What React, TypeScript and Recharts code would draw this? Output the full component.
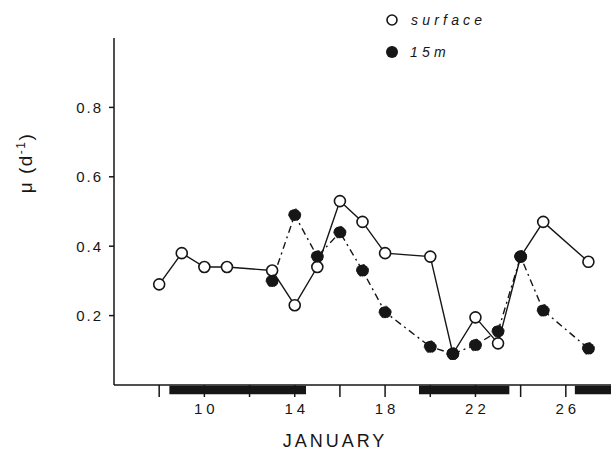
import React from "react";
import { LineChart, Line, XAxis, YAxis, ReferenceArea } from "recharts";

// growth rate (per day) by January day
const surfaceDays = [8, 9, 10, 11, 13, 14, 15, 16, 17, 18, 20, 21, 22, 23, 24, 25, 27];
const surfaceMu = [0.29, 0.38, 0.34, 0.34, 0.33, 0.23, 0.34, 0.53, 0.47, 0.38, 0.37, 0.09, 0.195, 0.12, 0.37, 0.47, 0.355];

const deepDays = [13, 14, 15, 16, 17, 18, 20, 21, 22, 23, 24, 25, 27];
const deepMu = [0.3, 0.49, 0.37, 0.44, 0.33, 0.21, 0.11, 0.09, 0.115, 0.155, 0.37, 0.215, 0.105];

// dark bars under the axis (start day, end day)
const barStarts = [8.45, 19.5, 26.4];
const barEnds = [14.5, 23.5, 28];

const xTicks = [8, 10, 12, 14, 16, 18, 20, 22, 24, 26];
const xLabelled = [10, 14, 18, 22, 26];
const yTicks = [0.2, 0.4, 0.6, 0.8];

const surfaceData = surfaceDays.map((d, i) => ({ day: d, mu: surfaceMu[i] }));
const deepData = deepDays.map((d, i) => ({ day: d, mu: deepMu[i] }));

const INK = "#161616";
const FONT = "'Liberation Sans', Arial, sans-serif";

function LegendBox() {
  const row: React.CSSProperties = {
    display: "flex",
    alignItems: "center",
    height: 32,
    fontFamily: FONT,
    fontStyle: "italic",
    fontSize: 14,
    letterSpacing: 4.2,
    color: INK,
  };
  return (
    <div style={{ position: "absolute", top: 4, left: 384 }}>
      <div style={row}>
        <svg width={16} height={16} style={{ marginRight: 11 }}>
          <circle cx={8} cy={8} r={5} fill="#fff" stroke={INK} strokeWidth={1.6} />
        </svg>
        surface
      </div>
      <div style={row}>
        <svg width={16} height={16} style={{ marginRight: 10 }}>
          <circle cx={8} cy={8} r={6} fill={INK} />
        </svg>
        15m
      </div>
    </div>
  );
}

export default function App() {
  return (
    <div style={{ position: "relative", width: 611, height: 455, background: "#fff" }}>
      <style>{"body{margin:0}"}</style>
      <LineChart
        width={611}
        height={455}
        margin={{ top: 38, right: 0, bottom: 0, left: 1 }}
      >
        <XAxis
          type="number"
          dataKey="day"
          domain={[6, 28]}
          ticks={xTicks}
          allowDataOverflow
          tickFormatter={(v: number) => (xLabelled.includes(v) ? String(v) : "")}
          tickSize={12}
          tickMargin={6}
          height={70}
          axisLine={{ stroke: INK, strokeWidth: 1.5 }}
          tickLine={{ stroke: INK, strokeWidth: 1.5 }}
          tick={{ fill: INK, fontSize: 15, fontFamily: FONT, letterSpacing: 4, dx: 2 }}
          label={{
            content: () => (
              <text
                x={335}
                y={447}
                textAnchor="middle"
                fill={INK}
                fontSize={18}
                fontFamily={FONT}
                letterSpacing={3}
              >
                JANUARY
              </text>
            ),
          }}
        />
        <YAxis
          type="number"
          domain={[0, 1]}
          ticks={yTicks}
          width={113}
          tickSize={5}
          tickMargin={6}
          tickFormatter={(v: number) => v.toFixed(1)}
          axisLine={{ stroke: INK, strokeWidth: 1.5 }}
          tickLine={{ stroke: INK, strokeWidth: 1.5 }}
          tick={{ fill: INK, fontSize: 15, fontFamily: FONT, letterSpacing: 2 }}
          label={{
            content: () => (
              <text
                x={32}
                y={163}
                transform="rotate(-90 32 163)"
                textAnchor="middle"
                fill={INK}
                fontSize={19}
                fontFamily={FONT}
                letterSpacing={1.5}
              >
                μ (d
                <tspan dy={-7} fontSize={12}>-1</tspan>
                <tspan dy={7}>)</tspan>
              </text>
            ),
          }}
        />
        {barStarts.map((s, i) => (
          <ReferenceArea
            key={i}
            x1={s}
            x2={barEnds[i]}
            y1={-0.027}
            y2={-0.002}
            ifOverflow="visible"
            fill={INK}
            fillOpacity={1}
            stroke="none"
          />
        ))}
        <Line
          data={surfaceData}
          dataKey="mu"
          name="surface"
          stroke={INK}
          strokeWidth={1.4}
          dot={{ r: 5.5, fill: "#fff", stroke: INK, strokeWidth: 1.6 }}
          isAnimationActive={false}
        />
        <Line
          data={deepData}
          dataKey="mu"
          name="15m"
          stroke={INK}
          strokeWidth={1.4}
          strokeDasharray="7 4 2 4"
          dot={{ r: 6, fill: INK, stroke: INK, strokeWidth: 1 }}
          isAnimationActive={false}
        />
      </LineChart>
      <LegendBox />
    </div>
  );
}
